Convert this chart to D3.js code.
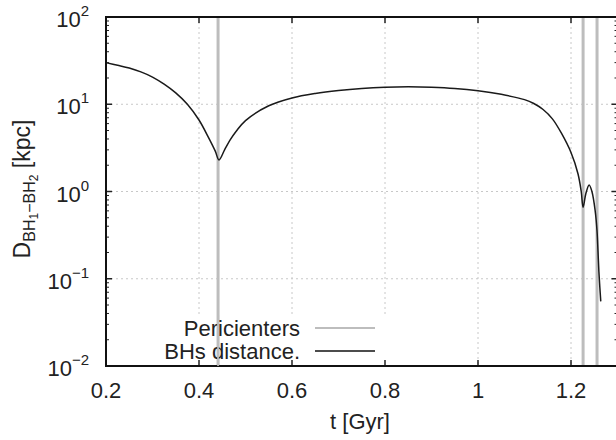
<!DOCTYPE html>
<html>
<head>
<meta charset="utf-8">
<script src="https://cdnjs.cloudflare.com/ajax/libs/d3/7.8.5/d3.min.js"></script>
<style>
  body { margin: 0; background: #fff; }
  svg text { font-family: "Liberation Sans", Arial, sans-serif; fill: #222; }
</style>
</head>
<body>
<div id="chart"></div>
<script>

// BH separation vs time
var tVals = [0.2, 0.225, 0.25, 0.275, 0.3, 0.325, 0.35, 0.375, 0.40, 0.42, 0.435, 0.443, 0.455, 0.467, 0.48, 0.5, 0.55, 0.6, 0.65, 0.7, 0.75, 0.8, 0.85, 0.9, 0.95, 1.0, 1.05, 1.1, 1.12, 1.14, 1.16, 1.18, 1.2, 1.215, 1.222, 1.226, 1.232, 1.239, 1.245, 1.252, 1.256, 1.258, 1.260, 1.262, 1.264];
var dVals = [30, 28, 26, 23.5, 20.5, 17, 13.5, 10, 6.6, 4.2, 2.9, 2.3, 3.0, 3.9, 4.9, 6.5, 9.6, 11.8, 13.3, 14.4, 15.2, 15.7, 15.9, 15.7, 15.2, 14.3, 13, 11.3, 10.2, 8.7, 6.8, 4.6, 2.8, 1.6, 1.0, 0.66, 0.95, 1.19, 1.0, 0.6, 0.35, 0.21, 0.12, 0.08, 0.055];

var pericenters = [0.441, 1.226, 1.256];
var xTicks = [0.2, 0.4, 0.6, 0.8, 1, 1.2];
var yExponents = [-2, -1, 0, 1, 2];
var legendLabels = ["Pericienters", "BHs distance."];

var W = 616, H = 440;
var mLeft = 106, mTop = 17, mBottom = 366;
var fs = "22px";

var x = d3.scaleLinear().domain([0.2, 1.3]).range([mLeft, 617.5]);
var y = d3.scaleLog().domain([1e-2, 1e2]).range([mBottom, mTop]);

var svg = d3.select("#chart").append("svg")
    .attr("width", W)
    .attr("height", H);

var mRight = x(1.3);

// grid
svg.selectAll(".vgrid")
    .data(xTicks.slice(1))
    .enter().append("line")
    .attr("x1", function (d) { return x(d) }).attr("x2", function (d) { return x(d) })
    .attr("y1", mTop).attr("y2", mBottom)
    .attr("stroke", "#c8c8c8").attr("stroke-width", 1).attr("stroke-dasharray", "2,3");

svg.selectAll(".hgrid")
    .data(yExponents.slice(1, -1))
    .enter().append("line")
    .attr("x1", mLeft).attr("x2", mRight)
    .attr("y1", function (d) { return y(Math.pow(10, d)) })
    .attr("y2", function (d) { return y(Math.pow(10, d)) })
    .attr("stroke", "#c8c8c8").attr("stroke-width", 1).attr("stroke-dasharray", "2,3");

// legend box (hides grid)
svg.append("rect")
    .attr("x", 150).attr("y", 315).attr("width", 242).attr("height", 50)
    .attr("fill", "#fff");

// pericenter lines
svg.selectAll(".peri")
    .data(pericenters)
    .enter().append("line")
    .attr("x1", function (d) { return x(d) }).attr("x2", function (d) { return x(d) })
    .attr("y1", mTop).attr("y2", mBottom)
    .attr("stroke", "#bdbdbd").attr("stroke-width", 3);

// distance curve
var pts = tVals.map(function (t, i) { return [t, dVals[i]] });
var line = d3.line()
    .x(function (d) { return x(d[0]) })
    .y(function (d) { return y(d[1]) })
    .curve(d3.curveCatmullRom.alpha(0.5));

svg.append("path")
    .datum(pts)
    .attr("d", line)
    .attr("fill", "none")
    .attr("stroke", "#1a1a1a")
    .attr("stroke-width", 1.5);

// ticks: left / right, major + minor
var minor = [];
yExponents.slice(0, -1).forEach(function (e) {
    for (var k = 2; k <= 9; k++) minor.push(k * Math.pow(10, e));
});
var ticksG = svg.append("g").attr("stroke", "#222");
[mLeft, mRight].forEach(function (xx) {
    var dir = xx === mLeft ? 1 : -1;
    yExponents.forEach(function (e) {
        ticksG.append("line")
            .attr("x1", xx).attr("x2", xx + dir * 6)
            .attr("y1", y(Math.pow(10, e))).attr("y2", y(Math.pow(10, e)))
            .attr("stroke-width", 1.5);
    });
    minor.forEach(function (v) {
        ticksG.append("line")
            .attr("x1", xx).attr("x2", xx + dir * 3)
            .attr("y1", y(v)).attr("y2", y(v))
            .attr("stroke-width", 1);
    });
});
xTicks.forEach(function (t) {
    ticksG.append("line").attr("x1", x(t)).attr("x2", x(t))
        .attr("y1", mBottom).attr("y2", mBottom - 6).attr("stroke-width", 1.5);
    ticksG.append("line").attr("x1", x(t)).attr("x2", x(t))
        .attr("y1", mTop).attr("y2", mTop + 6).attr("stroke-width", 1.5);
});

// frame
svg.append("rect")
    .attr("x", mLeft).attr("y", mTop)
    .attr("width", mRight - mLeft).attr("height", mBottom - mTop)
    .attr("fill", "none").attr("stroke", "#111").attr("stroke-width", 2);

// x tick labels
svg.selectAll(".xlab")
    .data(xTicks)
    .enter().append("text")
    .attr("x", function (d) { return x(d) })
    .attr("y", 398)
    .attr("text-anchor", "middle")
    .style("font-size", fs)
    .text(function (d) { return d3.format("")(d) });

// y tick labels 10^n
yExponents.forEach(function (e) {
    var t = svg.append("text")
        .attr("x", 89)
        .attr("y", y(Math.pow(10, e)) + 10)
        .attr("text-anchor", "end")
        .style("font-size", fs);
    t.append("tspan").text("10");
    t.append("tspan").attr("dy", -11).style("font-size", "15px")
        .text(e < 0 ? "\u2212" + Math.abs(e) : e);
});

// axis titles
svg.append("text")
    .attr("x", 360).attr("y", 429)
    .attr("text-anchor", "middle")
    .style("font-size", fs)
    .text("t [Gyr]");

var yt = svg.append("text")
    .attr("transform", "translate(30," + 189 + ") rotate(-90)")
    .attr("text-anchor", "middle")
    .style("font-size", "23px");
yt.append("tspan").text("D");
yt.append("tspan").attr("dy", 5).style("font-size", "16px").text("BH");
yt.append("tspan").attr("dy", 3).style("font-size", "12px").text("1");
yt.append("tspan").attr("dy", -3).style("font-size", "16px").text("\u2212BH");
yt.append("tspan").attr("dy", 3).style("font-size", "12px").text("2");
yt.append("tspan").attr("dy", -8).text(" [kpc]");

// legend
var legRows = [{y: 328, color: "#bdbdbd", w: 2}, {y: 351, color: "#111", w: 1.5}];
legendLabels.forEach(function (lab, i) {
    svg.append("text")
        .attr("x", 300).attr("y", legRows[i].y + 8)
        .attr("text-anchor", "end")
        .style("font-size", fs)
        .text(lab);
    svg.append("line")
        .attr("x1", 315).attr("x2", 375)
        .attr("y1", legRows[i].y).attr("y2", legRows[i].y)
        .attr("stroke", legRows[i].color).attr("stroke-width", legRows[i].w);
});

// pericenter line passes over the legend text
svg.append("line")
    .attr("x1", x(pericenters[0])).attr("x2", x(pericenters[0]))
    .attr("y1", 315).attr("y2", mBottom)
    .attr("stroke", "#bdbdbd").attr("stroke-width", 2).attr("opacity", 0.9);

</script>
</body>
</html>
